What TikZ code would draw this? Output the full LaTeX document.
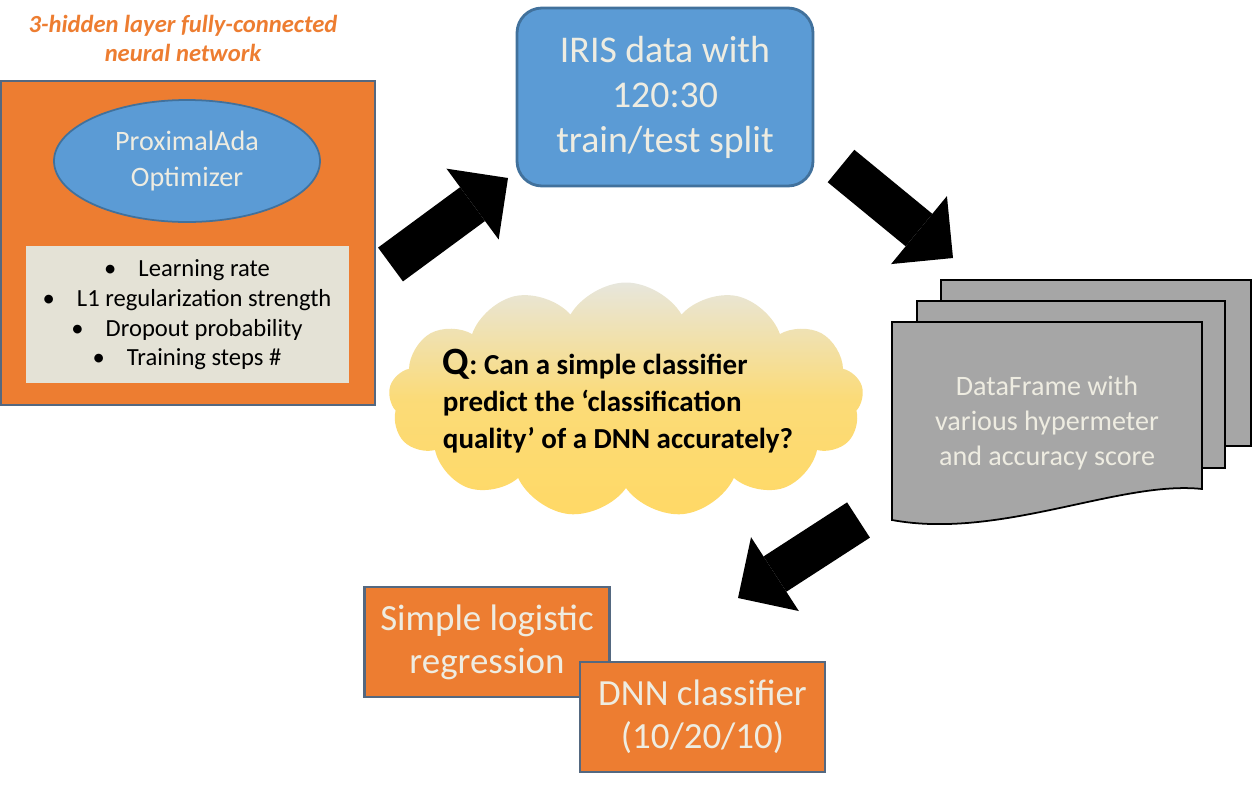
\documentclass[tikz,border=0pt]{standalone}
\usepackage{fontspec}
\setmainfont{Carlito}
\usepackage{tikz}
\usetikzlibrary{
  shapes.geometric, shapes.symbols, arrows.meta, positioning
}
\usepackage{xcolor}
\definecolor{boxorange}{RGB}{237,125,49}
\definecolor{boxblue}{RGB}{91,155,213}
\definecolor{blueline}{RGB}{65,113,156}
\definecolor{slateline}{RGB}{84,104,128}
\definecolor{creamtext}{RGB}{238,236,225}
\definecolor{listfill}{RGB}{228,226,214}
\definecolor{pagegray}{RGB}{166,166,166}
\definecolor{cloudtop}{RGB}{231,230,220}
\definecolor{cloudyellow}{RGB}{255,217,102}
\tikzset{
  basebox/.style={
    rectangle, align=center, inner sep=2pt
  },
  orangebox/.style={basebox, draw=slateline, line width=1.2pt, fill=boxorange, text=creamtext},
  classbox/.style={orangebox, minimum width=4.9cm, minimum height=2.2cm, font=\fontsize{21}{24.5}\selectfont},
  titletext/.style={basebox, text=boxorange, font=\fontsize{14}{16.5}\selectfont\bfseries\itshape},
  optimellipse/.style={ellipse, draw=blueline, line width=1pt, fill=boxblue, text=creamtext, align=center,
    minimum width=5.32cm, minimum height=2.44cm, inner sep=0pt, font=\fontsize{16}{20}\selectfont},
  paramsbox/.style={basebox, fill=listfill, minimum width=6.46cm, minimum height=2.74cm, font=\fontsize{14}{17}\selectfont},
  irisbox/.style={basebox, rounded corners=0.5cm, draw=blueline, line width=1.6pt, fill=boxblue, text=creamtext,
    minimum width=5.92cm, minimum height=3.56cm, font=\fontsize{21.5}{25.6}\selectfont},
  pagesheet/.style={draw=black, line width=1pt, fill=pagegray},
  frametext/.style={basebox, text=creamtext, font=\fontsize{16}{20}\selectfont},
  qcloud/.style={cloud, cloud puffs=13, cloud puff arc=120, cloud ignores aspect,
    minimum width=9.5cm, minimum height=4.7cm, inner sep=0pt,
    top color=cloudtop, bottom color=cloudyellow, middle color=cloudyellow!85!cloudtop},
  qtext/.style={basebox, align=left, font=\fontsize{16.5}{21}\selectfont\bfseries},
  bigarrow/.style={line width=0.84cm, black, -{Triangle[length=0.88cm, width=1.76cm, line width=0pt]}}
}
\newcommand{\itm}{\textbullet\hspace{0.9em}}

\begin{document}
\begin{tikzpicture}
  \useasboundingbox (0,0) rectangle (25.04,-15.7);

  % network with optimizer and its hyperparameters
  \node[orangebox, minimum width=7.48cm, minimum height=6.48cm] (nnbox) at (3.76,-4.86) {};
  \node[titletext] (title) at (3.66,-0.77) {3-hidden layer fully-connected\\neural network};
  \node[optimellipse] (optim) at (3.74,-3.22) {ProximalAda\\Optimizer};
  \node[paramsbox, below=0.46cm of optim] (params)
        {\itm Learning rate\\\itm L1 regularization strength\\\itm Dropout probability\\\itm Training steps \#};

  % data split
  \node[irisbox] (iris) at (13.3,-1.94) {IRIS data with\\120:30\\train/test split};

  % stacked data frames
  \filldraw[pagesheet] (18.82,-5.6) rectangle (25.02,-8.92);
  \filldraw[pagesheet] (18.34,-6.02) rectangle (24.5,-9.36);
  \filldraw[pagesheet] (17.84,-6.44) -- (24.04,-6.44) -- (24.04,-9.78)
        .. controls (22.4,-9.6) and (20.0,-10.8) .. (17.84,-10.4) -- cycle;
  \node[frametext] (frame) at (20.94,-8.46) {DataFrame with\\various hypermeter\\and accuracy score};

  % question
  \node[qcloud] (cloud) at (12.52,-8.0) {};
  \node[qtext] (question) at (12.36,-8.02)
        {{\fontsize{22}{21}\selectfont Q}: Can a simple classifier\\predict the ‘classification\\quality’ of a DNN accurately?};

  % classifiers
  \node[classbox] (logreg) at (9.74,-12.84) {Simple logistic\\regression};
  \node[classbox] (dnn) at (14.05,-14.34) {DNN classifier\\(10/20/10)};

  % block arrows
  \coordinate (nnout) at (7.81,-5.29);
  \coordinate (irisin) at (10.16,-3.56);
  \coordinate (irisout) at (16.82,-3.32);
  \coordinate (framein) at (19.06,-5.16);
  \coordinate (frameout) at (17.17,-10.4);
  \coordinate (classin) at (14.76,-11.96);
  \draw[bigarrow] (nnout) -- (irisin);
  \draw[bigarrow] (irisout) -- (framein);
  \draw[bigarrow] (frameout) -- (classin);
\end{tikzpicture}
\end{document}
